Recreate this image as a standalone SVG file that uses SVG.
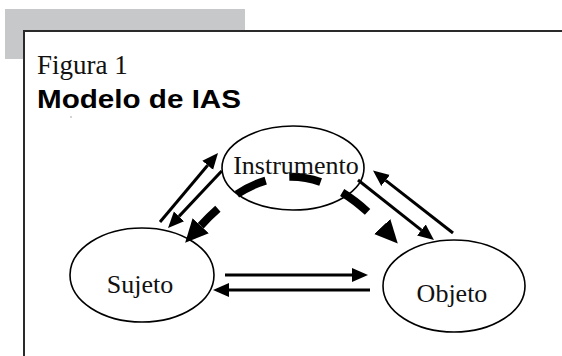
<svg xmlns="http://www.w3.org/2000/svg" width="562" height="356" viewBox="0 0 562 356">
  <style>
    .node ellipse { fill: none; stroke: #000; stroke-width: 1.6; }
    .label { font-family: "Liberation Serif", "Times New Roman", serif; font-size: 26px; fill: #111; text-anchor: middle; }
    .thin { fill: none; stroke: #000; stroke-width: 3; }
    .thick { fill: none; stroke: #000; stroke-width: 8; stroke-dasharray: 32 24; stroke-dashoffset: 8; }
  </style>
  <defs>
    <marker id="ah" markerUnits="userSpaceOnUse" markerWidth="20" markerHeight="20" refX="0" refY="7" orient="auto" viewBox="0 0 20 14">
      <path d="M0,0 L16,7 L0,14 z" fill="#000"/>
    </marker>
    <marker id="bigah" markerUnits="userSpaceOnUse" markerWidth="26" markerHeight="24" refX="0" refY="11" orient="auto-start-reverse" viewBox="0 0 26 22">
      <path d="M0,0 L23,11 L0,22 z" fill="#000"/>
    </marker>
  </defs>

  <rect x="5" y="9" width="240" height="50" fill="#c7c8ca"/>
  <rect x="24" y="31" width="600" height="400" fill="#fff" stroke="#2a2a2a" stroke-width="2"/>

  <text x="37" y="74" font-family="Liberation Serif, 'Times New Roman', serif" font-size="27" fill="#111">Figura 1</text>
  <text x="37" y="108" font-family="Liberation Sans, Arial, sans-serif" font-size="26" font-weight="bold" fill="#000" textLength="204" lengthAdjust="spacingAndGlyphs">Modelo de IAS</text>
  <circle cx="71" cy="117" r="0.7" fill="#888"/>

  <g id="connectors">
    <path class="thin" d="M160,222 L207.7,165.3" marker-end="url(#ah)"/>
    <path class="thin" d="M221.7,171 L179,216.4" marker-end="url(#ah)"/>
    <path class="thin" d="M358,180 L421.4,230.1" marker-end="url(#ah)"/>
    <path class="thin" d="M453,233 L385.6,180.4" marker-end="url(#ah)"/>
    <path class="thin" d="M225,275 L352,275" marker-end="url(#ah)"/>
    <path class="thin" d="M370,290 L229,290" marker-end="url(#ah)"/>
    <path class="thick" d="M200.7,225.7 Q291,127.4 382.2,226.5" marker-start="url(#bigah)" marker-end="url(#bigah)"/>
  </g>

  <g id="instrumento" class="node">
    <ellipse cx="293" cy="168" rx="71" ry="42"/>
    <text class="label" x="296" y="174">Instrumento</text>
  </g>
  <g id="sujeto" class="node">
    <ellipse cx="142" cy="275" rx="72" ry="47"/>
    <text class="label" x="140" y="293">Sujeto</text>
  </g>
  <g id="objeto" class="node">
    <ellipse cx="454" cy="286" rx="71" ry="46"/>
    <text class="label" x="452" y="302">Objeto</text>
  </g>
</svg>
